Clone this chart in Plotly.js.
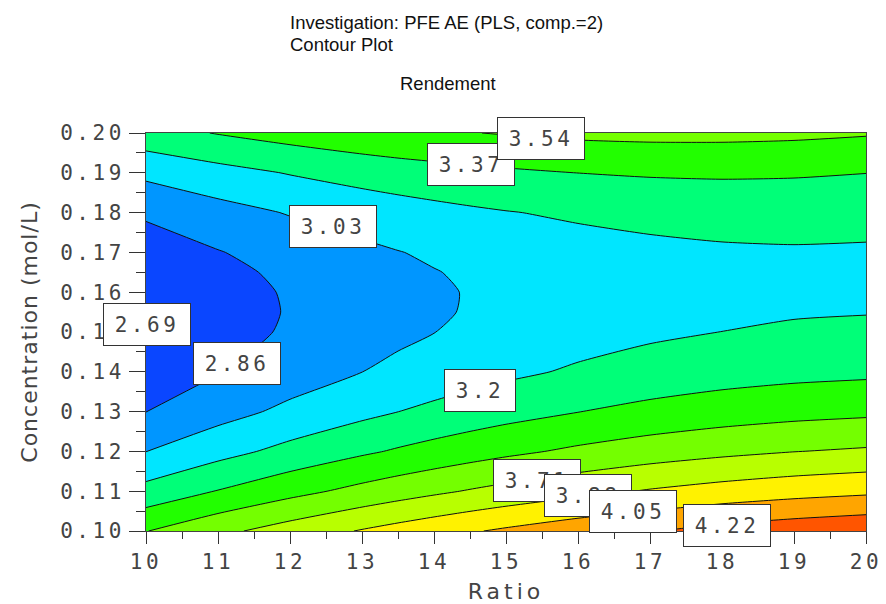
<!DOCTYPE html>
<html>
<head>
<meta charset="utf-8">
<script src="https://cdn.plot.ly/plotly-3.0.1.min.js"></script>
<style>
  html, body { margin: 0; padding: 0; background: #fff; }
  #chart { width: 886px; height: 604px; }
  text[style*="DejaVu Sans Mono"] { letter-spacing: 3.5px; }
  .xtitle { letter-spacing: 4px; }
  .ytitle { letter-spacing: 1px; }
</style>
</head>
<body>
<div id="chart"></div>
<script>
// Ratio (x) and Concentration (y) grid
const ratio = [10, 11, 12, 13, 13.5, 14, 14.5, 15, 16, 17, 18, 19, 20];
const concentration = [0.10, 0.11, 0.12, 0.13, 0.14, 0.15, 0.155, 0.16, 0.165, 0.17, 0.18, 0.19, 0.20];

// Rendement values: one row per concentration, one column per ratio
const rendement = [
  [3.535, 3.668, 3.785, 3.892, 3.942, 3.989, 4.034, 4.076, 4.153, 4.212, 4.277, 4.324, 4.361],
  [3.255, 3.377, 3.488, 3.589, 3.636, 3.680, 3.722, 3.761, 3.832, 3.894, 3.945, 3.986, 4.017],
  [3.028, 3.143, 3.249, 3.344, 3.388, 3.429, 3.468, 3.505, 3.570, 3.626, 3.671, 3.707, 3.732],
  [2.858, 2.968, 3.068, 3.157, 3.199, 3.237, 3.273, 3.307, 3.367, 3.416, 3.456, 3.486, 3.506],
  [2.747, 2.851, 2.945, 3.029, 3.068, 3.103, 3.137, 3.167, 3.221, 3.265, 3.299, 3.323, 3.337],
  [2.695, 2.793, 2.881, 2.960, 2.995, 3.028, 3.058, 3.086, 3.134, 3.173, 3.201, 3.219, 3.228],
  [2.690, 2.786, 2.871, 2.947, 2.981, 3.012, 3.041, 3.067, 3.113, 3.148, 3.174, 3.189, 3.195],
  [2.701, 2.793, 2.876, 2.948, 2.981, 3.011, 3.038, 3.063, 3.106, 3.139, 3.161, 3.174, 3.176],
  [2.725, 2.815, 2.895, 2.965, 2.996, 3.024, 3.050, 3.074, 3.114, 3.143, 3.163, 3.173, 3.172],
  [2.765, 2.852, 2.929, 2.995, 3.025, 3.052, 3.077, 3.099, 3.136, 3.163, 3.180, 3.186, 3.183],
  [2.887, 2.969, 3.040, 3.101, 3.128, 3.152, 3.174, 3.193, 3.224, 3.245, 3.256, 3.258, 3.249],
  [3.068, 3.144, 3.209, 3.265, 3.289, 3.310, 3.329, 3.345, 3.371, 3.386, 3.392, 3.387, 3.372],
  [3.308, 3.378, 3.437, 3.487, 3.508, 3.522, 3.535, 3.550, 3.576, 3.586, 3.585, 3.575, 3.555]
];

// Contour levels
const levelStart = 2.86;
const levelEnd = 4.22;
const levelStep = 0.17;

// Band colours, lowest band first
const bandColors = ['#0a46ff', '#0096ff', '#00e6ff', '#00ff78', '#22ff00',
                    '#74ff00', '#b8ff00', '#fff200', '#ffa500', '#ff5500'];

// Contour value labels (boxed) and where they sit
const labelText  = ['2.69', '2.86', '3.03', '3.2', '3.37', '3.54', '3.71', '3.88', '4.05', '4.22'];
const labelRatio = [10.01, 11.26, 12.60, 14.64, 14.51, 15.49, 15.43, 16.14, 16.76, 18.07];
const labelConc  = [0.1518, 0.1420, 0.1764, 0.1352, 0.1922, 0.1987, 0.1128, 0.1088, 0.1048, 0.1015];

const colorscale = bandColors.map((c, i) => [i / (bandColors.length - 1), c]);

const tickFont = { family: 'DejaVu Sans Mono', size: 21, color: '#444' };

const trace = {
  type: 'contour',
  x: ratio,
  y: concentration,
  z: rendement,
  autocontour: false,
  contours: { start: levelStart, end: levelEnd, size: levelStep, coloring: 'fill', showlines: true },
  colorscale: colorscale,
  showscale: false,
  line: { color: '#111', width: 1, smoothing: 0.6 },
  hoverinfo: 'skip'
};

const annotations = labelText.map((t, i) => ({
  x: labelRatio[i], y: labelConc[i], xref: 'x', yref: 'y',
  text: t, showarrow: false,
  font: { family: 'DejaVu Sans Mono', size: 21, color: '#444' },
  bgcolor: '#ffffff', bordercolor: '#333', borderwidth: 1, borderpad: 1,
  width: t.length * 16 + 20, height: 39, xanchor: 'center', yanchor: 'middle'
}));

const titleFont = { family: 'Liberation Sans', size: 18.5, color: '#111' };
annotations.push(
  { text: 'Investigation: PFE AE (PLS, comp.=2)', xref: 'paper', yref: 'paper',
    x: (288 - 146) / 720, y: (531 - 22) / 398, xanchor: 'left', yanchor: 'middle',
    showarrow: false, font: titleFont },
  { text: 'Contour Plot', xref: 'paper', yref: 'paper',
    x: (288 - 146) / 720, y: (531 - 45) / 398, xanchor: 'left', yanchor: 'middle',
    showarrow: false, font: titleFont },
  { text: 'Rendement', xref: 'paper', yref: 'paper',
    x: (448 - 146) / 720, y: (531 - 84) / 398, xanchor: 'center', yanchor: 'middle',
    showarrow: false, font: titleFont }
);

const layout = {
  width: 886, height: 604,
  margin: { l: 146, r: 20, t: 133, b: 73 },
  paper_bgcolor: '#fff', plot_bgcolor: '#fff',
  showlegend: false,
  xaxis: {
    range: [10, 20], tickmode: 'linear', tick0: 10, dtick: 1,
    ticks: 'outside', ticklen: 12, tickcolor: '#333', tickwidth: 1,
    minor: { dtick: 0.5, ticks: 'outside', ticklen: 7, tickcolor: '#333' },
    showgrid: false, zeroline: false,
    showline: true, linecolor: '#444', linewidth: 1, mirror: true,
    tickfont: tickFont,
    title: { text: 'Ratio', font: { family: 'DejaVu Sans', size: 22, color: '#444' }, standoff: 12 }
  },
  yaxis: {
    range: [0.10, 0.20], tickmode: 'linear', tick0: 0.10, dtick: 0.01, tickformat: '.2f',
    ticks: 'outside', ticklen: 16, tickcolor: '#333', tickwidth: 1,
    minor: { dtick: 0.005, ticks: 'outside', ticklen: 9, tickcolor: '#333' },
    showgrid: false, zeroline: false,
    showline: true, linecolor: '#444', linewidth: 1, mirror: true,
    tickfont: tickFont,
    title: { text: 'Concentration (mol/L)', font: { family: 'DejaVu Sans', size: 22, color: '#444' }, standoff: 16 }
  },
  annotations: annotations
};

Plotly.newPlot('chart', [trace], layout, { displayModeBar: false, staticPlot: true });
</script>
</body>
</html>
